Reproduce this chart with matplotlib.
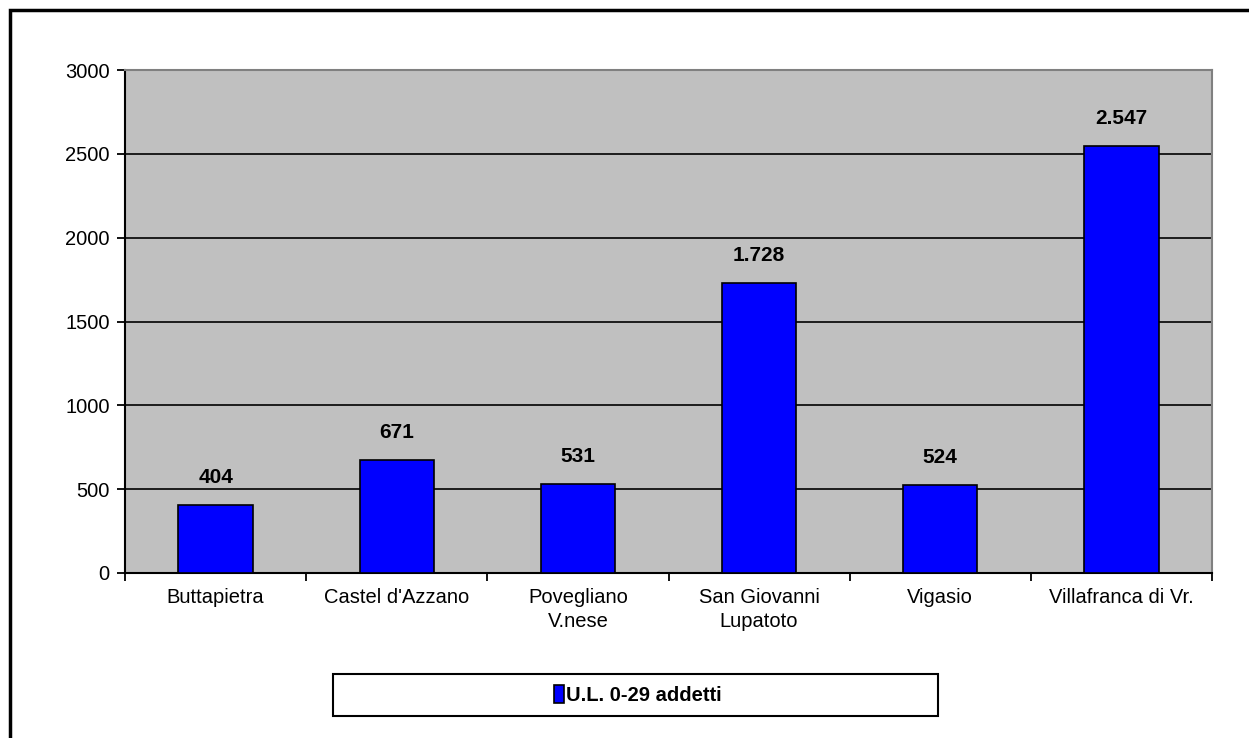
import matplotlib.pyplot as plt
from matplotlib.patches import Rectangle

plt.rcParams['font.family'] = ['Liberation Sans', 'DejaVu Sans']

comuni = ['Buttapietra', "Castel d'Azzano", 'Povegliano\nV.nese',
          'San Giovanni\nLupatoto', 'Vigasio', 'Villafranca di Vr.']
unita_locali = [404, 671, 531, 1728, 524, 2547]
etichette = ['404', '671', '531', '1.728', '524', '2.547']
serie = 'U.L. 0-29 addetti'

W, H = 1249, 738
fig = plt.figure(figsize=(W / 100, H / 100), dpi=100)

# cornice esterna (solo lati sinistro e superiore visibili)
fig.add_artist(Rectangle((10 / W, -0.1), 1.2, 1.1 - 10 / H, transform=fig.transFigure,
                         fill=False, edgecolor='black', linewidth=2.5))

ax = fig.add_axes([125 / W, 1 - 573 / H, (1212 - 125) / W, (573 - 70) / H])
ax.set_facecolor('#C0C0C0')

x = range(len(comuni))
ax.bar(x, unita_locali, width=0.41, color='#0000FF', edgecolor='black',
       linewidth=1.2, zorder=3, label=serie)

for i, (v, t) in enumerate(zip(unita_locali, etichette)):
    ax.annotate(t, (i, v), xytext=(0, 13), textcoords='offset points',
                ha='center', va='bottom', fontsize=15, fontweight='bold')

ax.set_xlim(-0.5, len(comuni) - 0.5)
ax.set_ylim(0, 3000)
ax.set_yticks(range(0, 3001, 500))
ax.yaxis.grid(True, color='black', linewidth=1.2, zorder=1)
ax.set_axisbelow(True)

ax.set_xticks([i - 0.5 for i in range(len(comuni) + 1)], minor=False)
ax.set_xticklabels([])
ax.set_xticks(list(x), minor=True)
ax.set_xticklabels(comuni, minor=True, fontsize=14.5, linespacing=1.3)
ax.tick_params(axis='x', which='minor', length=0, pad=11)
ax.tick_params(axis='x', which='major', length=6, width=1.3, direction='out')
ax.tick_params(axis='y', length=6, width=1.3, labelsize=14.5, pad=5)

ax.spines['left'].set_linewidth(1.5)
ax.spines['bottom'].set_linewidth(1.5)
ax.spines['top'].set_color('#808080')
ax.spines['right'].set_color('#808080')
ax.spines['top'].set_linewidth(1.5)
ax.spines['right'].set_linewidth(1.5)

# riquadro della legenda
fig.add_artist(Rectangle((333 / W, 1 - 716 / H), (938 - 333) / W, 42 / H,
                         transform=fig.transFigure, facecolor='white',
                         edgecolor='black', linewidth=1.5))
leg = fig.legend(loc='center', bbox_to_anchor=(638 / W, 1 - 695 / H),
                 bbox_transform=fig.transFigure, frameon=False,
                 prop={'weight': 'bold', 'size': 14.5}, handlelength=0.5,
                 handleheight=1.0, handletextpad=0.1, borderaxespad=0)

fig.savefig('out.png', dpi=100)
